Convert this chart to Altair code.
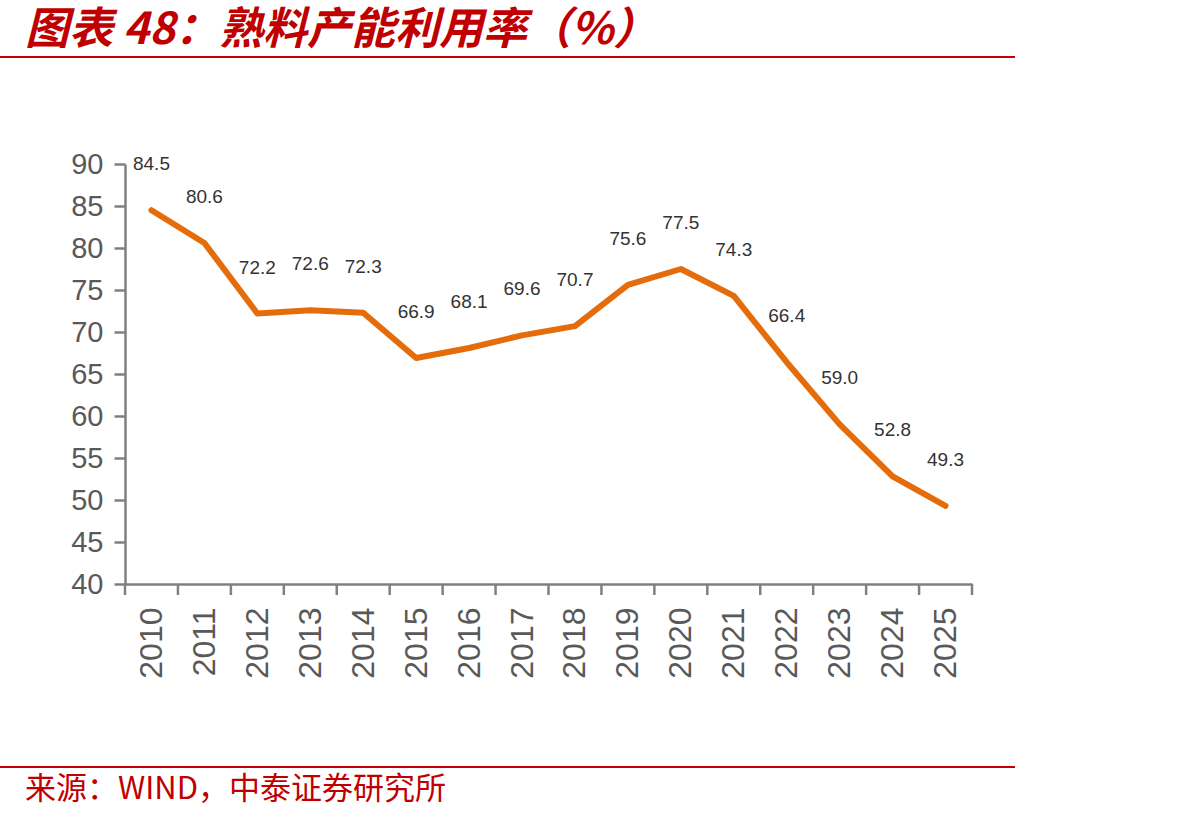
import altair as alt
import pandas as pd

# Clinker capacity utilisation, %
years = list(range(2010, 2026))
rates = [84.5, 80.6, 72.2, 72.6, 72.3, 66.9, 68.1, 69.6, 70.7, 75.6, 77.5, 74.3, 66.4, 59.0, 52.8, 49.3]
y_ticks = list(range(40, 95, 5))

title_text = "图表 48：熟料产能利用率（%）"
source_text = "来源：WIND，中泰证券研究所"

RED = "#C00000"
ORANGE = "#E46C0A"
AXIS_GREY = "#808080"
LABEL_GREY = "#595959"

# plot area geometry
PAD_L, PAD_T = 125, 164
W, H = 847, 420
PAD_R = 1192 - PAD_L - W
PAD_B = 819 - PAD_T - H

df = pd.DataFrame({"year": years, "rate": rates, "label": [f"{v:.1f}" for v in rates]})
# category boundaries for the x-axis tick marks
edges = pd.DataFrame({"edge": [y - 0.5 for y in years] + [years[-1] + 0.5]})

x_scale = alt.Scale(domain=[years[0] - 0.5, years[-1] + 0.5], nice=False, zero=False)
y_scale = alt.Scale(domain=[40, 90], nice=False, zero=False)

base = alt.Chart(df)

line = base.mark_line(color=ORANGE, strokeWidth=6, strokeCap="round", strokeJoin="round").encode(
    x=alt.X(
        "year:Q",
        scale=x_scale,
        title=None,
        axis=alt.Axis(
            values=years,
            format="d",
            labelAngle=270,
            labelFontSize=32,
            labelColor=LABEL_GREY,
            labelFont="Liberation Sans",
            labelPadding=23,
            ticks=False,
            tickSize=0,
            domainColor=AXIS_GREY,
            domainWidth=2.5,
            grid=False,
            labelOverlap=False,
        ),
    ),
    y=alt.Y(
        "rate:Q",
        scale=y_scale,
        title=None,
        axis=alt.Axis(
            values=y_ticks,
            labelFontSize=29,
            labelColor=LABEL_GREY,
            labelFont="Liberation Sans",
            labelPadding=11,
            tickSize=11,
            tickColor=AXIS_GREY,
            tickWidth=2.5,
            domainColor=AXIS_GREY,
            domainWidth=2.5,
            grid=False,
            labelOverlap=False,
        ),
    ),
)

labels = base.mark_text(
    dy=-46, fontSize=19, color="#333333", font="Liberation Sans", baseline="middle", align="center"
).encode(x=alt.X("year:Q", scale=x_scale), y=alt.Y("rate:Q", scale=y_scale), text="label:N")

x_ticks = alt.Chart(edges).mark_rule(color=AXIS_GREY, strokeWidth=2.5).encode(
    x=alt.X("edge:Q", scale=x_scale), y=alt.value(H), y2=alt.value(H + 11)
)

title = alt.Chart(pd.DataFrame({"t": [title_text]})).mark_text(
    align="left", baseline="middle", fontSize=44, fontWeight="bold", fontStyle="italic",
    font="Noto Sans CJK SC", color=RED,
).encode(x=alt.value(25 - PAD_L), y=alt.value(31 - PAD_T), text="t:N")

source = alt.Chart(pd.DataFrame({"t": [source_text]})).mark_text(
    align="left", baseline="middle", fontSize=31, font="Noto Sans CJK SC", color=RED,
).encode(x=alt.value(25 - PAD_L), y=alt.value(790 - PAD_T), text="t:N")

top_rule = alt.Chart(pd.DataFrame({"k": [0]})).mark_rule(color=RED, strokeWidth=2).encode(
    x=alt.value(-PAD_L), x2=alt.value(1015 - PAD_L), y=alt.value(57 - PAD_T)
)
bottom_rule = alt.Chart(pd.DataFrame({"k": [0]})).mark_rule(color=RED, strokeWidth=2).encode(
    x=alt.value(-PAD_L), x2=alt.value(1015 - PAD_L), y=alt.value(767 - PAD_T)
)

chart = (
    alt.layer(line, labels, x_ticks, title, source, top_rule, bottom_rule)
    .properties(
        width=W,
        height=H,
        padding={"left": PAD_L, "top": PAD_T, "right": PAD_R, "bottom": PAD_B},
        autosize=alt.AutoSizeParams(type="none"),
        background="white",
    )
    .configure_view(stroke=None)
)

chart.save("out.html", embed_options={"renderer": "svg", "actions": False})
